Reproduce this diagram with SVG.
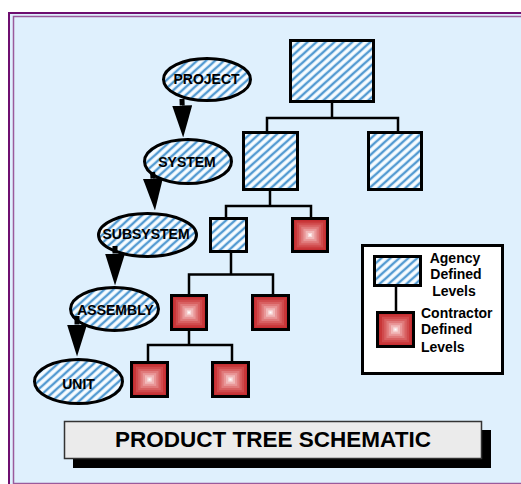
<svg xmlns="http://www.w3.org/2000/svg" xmlns:xlink="http://www.w3.org/1999/xlink" width="521" height="484" viewBox="0 0 521 484">
  <style>
    .hatch { fill: url(#hatch); stroke: #000; stroke-width: 3; }
    .redbox { fill: none; stroke: #000; stroke-width: 3; }
    .ell { fill: url(#hatch); stroke: #000; stroke-width: 3; }
    .lbl { font-family: "Liberation Sans", Arial, sans-serif; font-weight: bold; font-size: 14px; fill: #000; text-anchor: middle; }
    .leg { font-family: "Liberation Sans", Arial, sans-serif; font-weight: bold; font-size: 14px; fill: #000; }
    .tree { fill: none; stroke: #000; stroke-width: 2.5; }
    .arrow { stroke: #000; stroke-width: 5; marker-end: url(#head); }
  </style>
  <defs>
    <!-- diagonal blue stripes on white -->
    <pattern id="hatch" patternUnits="userSpaceOnUse" width="6" height="6" patternTransform="rotate(48)">
      <rect width="6" height="6" fill="#fbfdff"/>
      <line x1="3" y1="0" x2="3" y2="6" stroke="#a9d3f0" stroke-width="3"/>
      <line x1="3" y1="0" x2="3" y2="6" stroke="#2f82c4" stroke-width="1.4"/>
    </pattern>
    <!-- stepped pyramid fill: dark red rim to white centre -->
    <symbol id="redfill" viewBox="0 0 40 40" preserveAspectRatio="none">
      <rect x="0" y="0" width="40" height="40" fill="#c22a2f"/>
      <rect x="2.5" y="2.5" width="35" height="35" fill="#c93638"/>
      <rect x="5" y="5" width="30" height="30" fill="#d04a4c"/>
      <rect x="7.5" y="7.5" width="25" height="25" fill="#d86061"/>
      <rect x="10" y="10" width="20" height="20" fill="#e07a7b"/>
      <rect x="12.5" y="12.5" width="15" height="15" fill="#e99798"/>
      <rect x="15" y="15" width="10" height="10" fill="#f1b8b8"/>
      <rect x="17.5" y="17.5" width="5" height="5" fill="#f9dede"/>
      <rect x="19" y="19" width="2" height="2" fill="#ffffff"/>
    </symbol>
    <marker id="head" markerUnits="userSpaceOnUse" markerWidth="32" markerHeight="20" viewBox="0 0 32 20" refX="0" refY="10" orient="auto">
      <path d="M0,0 L32,10 L0,20 Z" fill="#000"/>
    </marker>
  </defs>

  <!-- page frame -->
  <rect x="0" y="0" width="521" height="484" fill="#ffffff"/>
  <rect x="9" y="13" width="530" height="490" fill="#dff0fd" stroke="#6e0f70" stroke-width="2"/>
  <rect x="13.5" y="16.5" width="520" height="467" fill="none" stroke="#9a5a9c" stroke-width="1.5"/>

  <!-- level names -->
  <g id="project">
    <ellipse class="ell" cx="207" cy="79.5" rx="43.5" ry="21"/>
    <text class="lbl" x="206.5" y="84">PROJECT</text>
  </g>
  <g id="system">
    <ellipse class="ell" cx="188" cy="161.5" rx="43.5" ry="22"/>
    <text class="lbl" x="187" y="167">SYSTEM</text>
  </g>
  <g id="subsystem">
    <ellipse class="ell" cx="147.5" cy="235" rx="49" ry="21.5"/>
    <text class="lbl" x="146" y="239">SUBSYSTEM</text>
  </g>
  <g id="assembly">
    <ellipse class="ell" cx="114.5" cy="309" rx="44" ry="21.5"/>
    <text class="lbl" x="115.5" y="315">ASSEMBLY</text>
  </g>
  <g id="unit">
    <ellipse class="ell" cx="78.5" cy="381.5" rx="44" ry="22"/>
    <text class="lbl" x="78.5" y="389">UNIT</text>
  </g>

  <!-- product tree -->
  <g id="top">
    <rect class="hatch" x="290.5" y="40.5" width="83" height="61"/>
  </g>
  <g id="sys-left">
    <rect class="hatch" x="243.5" y="132.5" width="54" height="57"/>
  </g>
  <g id="sys-right">
    <rect class="hatch" x="368.5" y="132.5" width="53" height="57"/>
  </g>
  <g id="sub-agency">
    <rect class="hatch" x="210.5" y="218.5" width="36" height="33"/>
  </g>
  <g id="sub-contractor">
    <use xlink:href="#redfill" x="292.5" y="218.5" width="35" height="33"/>
    <rect class="redbox" x="292.5" y="218.5" width="35" height="33"/>
  </g>
  <g id="asm-left">
    <use xlink:href="#redfill" x="171.5" y="295.5" width="35" height="34"/>
    <rect class="redbox" x="171.5" y="295.5" width="35" height="34"/>
  </g>
  <g id="asm-right">
    <use xlink:href="#redfill" x="252.5" y="295.5" width="36" height="34"/>
    <rect class="redbox" x="252.5" y="295.5" width="36" height="34"/>
  </g>
  <g id="unit-left">
    <use xlink:href="#redfill" x="131.5" y="362.5" width="36" height="34"/>
    <rect class="redbox" x="131.5" y="362.5" width="36" height="34"/>
  </g>
  <g id="unit-right">
    <use xlink:href="#redfill" x="212.5" y="362.5" width="36" height="34"/>
    <rect class="redbox" x="212.5" y="362.5" width="36" height="34"/>
  </g>

  <!-- legend -->
  <g id="legend">
    <rect x="362.5" y="245.5" width="140" height="128" fill="#ffffff" stroke="#000" stroke-width="3"/>
    <line x1="396" y1="287" x2="396" y2="312" stroke="#000" stroke-width="2.5"/>
    <rect class="hatch" x="374.5" y="256.5" width="46" height="29"/>
    <use xlink:href="#redfill" x="377.5" y="312.5" width="36" height="34"/>
    <rect class="redbox" x="377.5" y="312.5" width="36" height="34"/>
    <text class="leg" x="455" y="263" text-anchor="middle">Agency</text>
    <text class="leg" x="456" y="279" text-anchor="middle">Defined</text>
    <text class="leg" x="454" y="296" text-anchor="middle">Levels</text>
    <text class="leg" x="421" y="318">Contractor</text>
    <text class="leg" x="421" y="334">Defined</text>
    <text class="leg" x="421" y="352">Levels</text>
  </g>

  <!-- caption -->
  <g id="caption">
    <rect x="73" y="430" width="418" height="38" fill="#000"/>
    <rect x="64.5" y="421.5" width="417" height="37" fill="#ebebeb" stroke="#333" stroke-width="1.5"/>
    <text x="273" y="447" font-family="'Liberation Sans', Arial, sans-serif" font-weight="bold" font-size="22.5" text-anchor="middle">PRODUCT TREE SCHEMATIC</text>
  </g>

  <!-- connectors -->
  <g id="connectors">
    <path class="tree" d="M332,102 V118 M267,131 V118 H398 V131"/>
    <path class="tree" d="M270,190 V206 M226,217 V206 H311 V217"/>
    <path class="tree" d="M231,252 V274.5 M189,294 V274.5 H273 V294"/>
    <path class="tree" d="M189,330 V345 M148,361 V345 H232 V361"/>
    <line class="arrow" x1="182" y1="99" x2="182.2" y2="105.5"/>
    <line class="arrow" x1="152.6" y1="172" x2="153" y2="178.5"/>
    <line class="arrow" x1="115" y1="246" x2="115" y2="253.5"/>
    <line class="arrow" x1="77" y1="316" x2="77" y2="324.5"/>
  </g>
</svg>
